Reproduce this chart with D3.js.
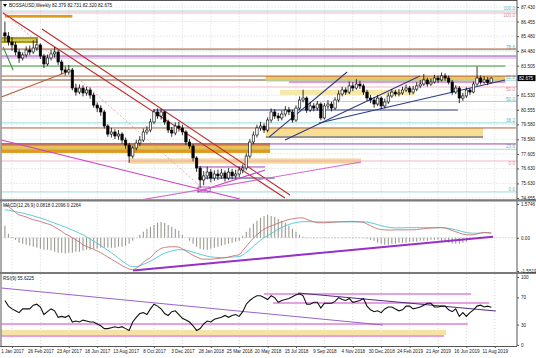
<!DOCTYPE html>
<html><head><meta charset="utf-8">
<script src="https://cdn.jsdelivr.net/npm/d3@7"></script>
<style>
html,body{margin:0;padding:0;background:#fff;}
svg{display:block;font-family:"Liberation Sans",Arial,sans-serif;}
</style></head><body>
<svg id="c" width="536" height="358"></svg>
<script>
// ---------- DATA ----------
const title = "BOSSAUSD,Weekly  82.379 82.731 82.320 82.675";
const macdTitle = "MACD(12,26,9) 0.0818 0.2096 0.2264";
const rsiTitle = "RSI(9) 55.6225";
const lastPrice = 82.675;
const firstOpen = 85.70;
const closes = [85.49,85.09,84.89,84.42,84.02,84.22,84.55,84.42,84.69,84.89,
84.15,83.62,84.02,84.29,84.42,83.75,83.22,83.08,83.22,82.01,
81.74,82.01,81.68,81.88,81.54,80.87,80.67,80.41,79.47,78.93,
79.07,78.80,78.93,78.53,78.20,77.46,78.00,78.33,78.53,79.07,
79.20,79.74,80.41,80.14,80.41,79.74,79.20,79.00,79.47,79.34,
79.07,78.40,78.13,77.33,76.66,75.86,76.13,76.39,75.99,76.26,
76.13,76.33,75.99,76.39,76.13,76.26,76.53,76.66,77.46,78.40,
78.87,79.34,79.47,79.20,79.87,80.41,80.14,80.01,80.27,80.54,
80.41,79.87,80.67,81.21,81.34,80.54,80.81,80.67,80.94,80.01,
80.81,80.94,80.67,81.21,81.61,81.88,81.74,82.15,82.01,82.28,
82.15,81.74,81.34,81.21,80.94,81.34,80.81,81.08,81.48,81.74,
81.61,81.68,81.88,82.01,81.74,81.94,82.15,82.28,82.55,82.28,
82.41,82.68,82.55,82.82,82.68,82.41,81.74,82.01,81.34,81.48,
81.88,81.74,82.28,82.68,82.41,82.55,82.379,82.675];
const highs = [86.45,85.75,85.40,85.10,84.60,84.40,84.80,84.85,85.20,85.30,
85.00,84.30,84.25,84.55,84.75,84.55,83.90,83.45,83.55,83.35,
82.30,82.25,82.20,82.10,82.05,81.70,81.05,80.85,80.55,79.60,
79.35,79.25,79.20,79.05,78.70,78.35,78.15,78.55,78.80,79.30,
79.45,79.95,80.60,80.65,80.60,80.50,79.90,79.40,79.70,79.75,
79.55,79.20,78.60,78.25,77.45,76.80,76.45,76.75,76.60,76.50,
76.55,76.60,76.50,76.65,76.60,76.55,76.75,76.90,77.65,78.60,
79.10,79.55,79.75,79.65,80.05,80.65,80.60,80.35,80.50,80.80,
80.75,80.55,80.85,81.45,81.90,81.45,81.05,81.00,81.15,81.05,
81.00,81.20,81.10,81.40,81.85,82.10,82.05,82.45,82.40,82.60,
82.50,82.30,81.90,81.55,81.40,81.55,81.45,81.30,81.70,81.95,
81.90,81.95,82.10,82.25,82.15,82.15,82.40,82.55,82.95,82.70,
82.65,82.90,82.85,83.05,83.00,82.85,82.55,82.20,82.15,81.70,
82.05,82.00,82.45,83.45,82.85,82.80,82.75,82.731];
const lows = [85.10,84.85,84.50,84.20,83.70,83.85,84.05,84.20,84.30,84.50,
83.95,83.35,83.50,83.85,84.05,83.55,82.95,82.85,82.90,81.85,
81.50,81.60,81.45,81.50,81.30,80.70,80.40,80.15,79.30,78.75,
78.70,78.60,78.55,78.30,77.95,77.00,77.30,77.85,78.15,78.40,
78.90,79.05,79.60,79.95,79.90,79.55,79.00,78.75,78.85,79.10,
78.85,78.20,77.95,77.10,76.40,75.35,75.50,75.90,75.70,75.80,
75.85,75.95,75.75,75.85,75.90,75.95,76.05,76.30,76.50,77.30,
78.25,78.70,79.15,79.00,79.05,79.70,79.95,79.80,79.85,80.10,
80.20,79.70,79.75,80.55,81.05,80.35,80.40,80.45,80.50,79.85,
79.90,80.60,80.45,80.55,81.05,81.45,81.55,81.60,81.80,81.90,
81.95,81.55,81.15,81.00,80.70,80.80,80.60,80.65,80.95,81.35,
81.45,81.45,81.55,81.75,81.55,81.60,81.80,82.00,82.15,82.10,
82.15,82.30,82.35,82.45,82.50,82.25,81.55,81.60,81.00,81.15,
81.35,81.55,81.65,82.15,82.25,82.30,82.20,82.32];
const macdMain = [1.55,1.45,1.32,1.18,1.07,1.02,0.97,0.90,0.84,0.80,
0.76,0.70,0.65,0.60,0.50,0.40,0.30,0.18,0.10,0.00,
-0.10,-0.20,-0.33,-0.40,-0.47,-0.54,-0.62,-0.70,-0.80,-0.90,
-1.00,-1.10,-1.20,-1.30,-1.38,-1.46,-1.49,-1.42,-1.30,-1.15,
-1.02,-0.93,-0.75,-0.60,-0.50,-0.45,-0.43,-0.42,-0.42,-0.44,
-0.52,-0.62,-0.72,-0.82,-0.90,-0.97,-1.00,-1.00,-1.00,-0.99,
-0.97,-0.95,-0.93,-0.90,-0.86,-0.82,-0.79,-0.60,-0.40,-0.20,
-0.02,0.14,0.28,0.40,0.48,0.55,0.62,0.68,0.74,0.80,
0.85,0.88,0.91,0.93,0.92,0.86,0.80,0.75,0.70,0.70,
0.70,0.71,0.72,0.73,0.74,0.75,0.75,0.76,0.76,0.75,
0.74,0.72,0.64,0.56,0.48,0.42,0.38,0.37,0.36,0.36,
0.37,0.37,0.37,0.37,0.37,0.37,0.38,0.40,0.42,0.44,
0.45,0.46,0.47,0.47,0.45,0.40,0.34,0.28,0.22,0.17,
0.14,0.13,0.14,0.18,0.22,0.25,0.24,0.21];
const macdSignal = [1.30,1.28,1.25,1.22,1.18,1.15,1.11,1.07,1.02,0.97,
0.92,0.87,0.81,0.74,0.68,0.62,0.56,0.50,0.43,0.36,
0.29,0.21,0.14,0.04,-0.06,-0.16,-0.26,-0.37,-0.48,-0.59,
-0.70,-0.82,-0.95,-1.08,-1.20,-1.30,-1.35,-1.35,-1.30,-1.24,
-1.17,-1.10,-1.00,-0.90,-0.80,-0.72,-0.66,-0.62,-0.58,-0.56,
-0.56,-0.58,-0.62,-0.67,-0.72,-0.77,-0.82,-0.86,-0.89,-0.91,
-0.92,-0.93,-0.93,-0.92,-0.90,-0.89,-0.88,-0.80,-0.68,-0.55,
-0.40,-0.26,-0.12,0.00,0.10,0.20,0.30,0.40,0.48,0.56,
0.62,0.67,0.71,0.74,0.75,0.75,0.75,0.74,0.74,0.74,
0.74,0.74,0.74,0.74,0.74,0.74,0.74,0.74,0.74,0.74,
0.74,0.74,0.73,0.70,0.66,0.61,0.56,0.52,0.49,0.47,
0.46,0.46,0.46,0.47,0.47,0.47,0.47,0.47,0.47,0.47,
0.47,0.47,0.47,0.47,0.46,0.44,0.41,0.37,0.33,0.28,
0.24,0.22,0.21,0.21,0.22,0.23,0.23,0.23];
const macdHist = [0.56,0.19,0.05,-0.09,-0.23,-0.28,-0.33,-0.37,-0.42,-0.47,
-0.51,-0.56,-0.56,-0.60,-0.65,-0.70,-0.70,-0.74,-0.70,-0.70,
-0.65,-0.65,-0.60,-0.56,-0.56,-0.51,-0.51,-0.47,-0.47,-0.47,
-0.47,-0.47,-0.42,-0.42,-0.37,-0.28,-0.14,0.00,0.14,0.28,
0.42,0.51,0.60,0.70,0.74,0.70,0.60,0.51,0.42,0.33,
0.14,0.00,-0.14,-0.28,-0.42,-0.51,-0.56,-0.56,-0.51,-0.47,
-0.42,-0.37,-0.33,-0.28,-0.23,-0.19,-0.14,0.09,0.28,0.47,
0.65,0.79,0.93,1.02,1.07,1.02,0.98,0.88,0.79,0.70,
0.56,0.42,0.28,0.14,0.05,-0.02,0.02,-0.02,0.02,-0.02,
0.02,-0.02,0.02,-0.02,0.02,-0.02,0.02,0.02,-0.02,0.02,
-0.02,-0.02,-0.05,-0.09,-0.14,-0.23,-0.28,-0.33,-0.33,-0.28,
-0.28,-0.23,-0.23,-0.23,-0.19,-0.19,-0.19,-0.14,-0.14,-0.14,
-0.09,-0.09,-0.09,-0.14,-0.19,-0.23,-0.28,-0.28,-0.28,-0.23,
-0.19,-0.09,-0.05,0.00,0.05,0.05,0.05,0.05];
const rsi = [65.5,57.2,53.1,50.3,47.6,53.1,53.1,53.1,58.6,60.0,
55.9,44.8,49.0,53.1,50.3,40.7,42.1,40.7,43.4,33.8,
35.2,33.8,36.6,35.2,33.8,33.8,31.0,28.3,24.1,24.1,
25.5,26.9,25.5,26.9,24.1,21.4,33.8,40.7,46.2,47.6,
44.8,53.1,60.0,57.2,53.1,46.2,43.4,49.0,50.3,44.8,
39.3,36.6,33.8,28.3,21.4,24.1,31.0,35.2,33.8,37.9,
39.3,40.7,43.4,40.7,43.4,44.8,42.1,49.0,60.0,65.5,
69.7,72.4,72.4,69.7,66.9,72.4,69.7,62.8,65.5,66.9,
68.3,71.0,73.8,75.2,72.4,60.0,60.0,62.8,62.8,54.5,
61.4,61.4,61.4,64.1,69.7,66.9,65.5,68.3,62.8,64.1,
65.5,68.3,57.2,51.7,49.0,50.3,47.6,53.1,55.9,55.9,
53.1,50.3,51.7,57.2,57.2,53.1,54.5,55.9,58.6,61.4,
61.4,55.9,55.9,57.2,57.2,51.7,49.0,53.1,42.1,47.6,
42.1,47.6,51.7,57.2,58.6,55.9,57.2,55.6];
const dateLabels = ["1 Jan 2017","26 Feb 2017","23 Apr 2017","18 Jun 2017","13 Aug 2017","8 Oct 2017","3 Dec 2017","28 Jan 2018","25 Mar 2018","20 May 2018","15 Jul 2018","9 Sep 2018","4 Nov 2018","30 Dec 2018","24 Feb 2019","21 Apr 2019","16 Jun 2019","11 Aug 2019"];
const dateWeeks = [2,10,18,26,34,42,50,58,66,74,82,90,98,106,114,122,130,138];
const priceTicks = [87.430,86.455,85.480,84.480,83.505,81.530,80.555,79.580,78.580,77.605,76.630,75.630,74.655];
const priceGrid = [87.430,86.455,85.480,84.480,83.505,82.505,81.530,80.555,79.580,78.580,77.605,76.630,75.630,74.655];
const macdTicks = [1.5746,0,-1.5519];
const macdTickLabels = ["1.5746","0.00","-1.5519"];
const rsiTicks = [100,70,30,0];
// annotations (price levels / week indices)
const fibTealLevels = ["0.0","23.6","38.2","50.0","61.8","78.6","100.0"];
const fibTealRange = [75.06, 87.16];
const fibPinkLevels = ["0.0","50.0","100.0"];
const fibPinkRange = [77.13, 87.03];
const zones = [
 {p1:86.90,p2:86.72,w1:0,w2:19,k:"orange"},
 {p1:85.42,p2:85.02,w1:-1,w2:9.3,k:"olive"},
 {p1:85.28,p2:85.16,w1:-1,w2:9.3,k:"oliveLight"},
 {p1:82.81,p2:82.45,w1:73.5,w2:140.9,k:"gold"},
 {p1:81.88,p2:81.55,w1:77.5,w2:115.5,k:"paleYellow"},
 {p1:78.33,p2:77.67,w1:-1,w2:74.7,k:"orange"},
 {p1:78.13,p2:77.93,w1:-1,w2:74.7,k:"orangeLight"},
 {p1:77.30,p2:76.95,w1:35.2,w2:100.3,k:"peach"},
 {p1:79.34,p2:78.73,w1:73.5,w2:134.7,k:"yellow"}
];
const hLines = [
 {p:84.62,w1:-1,w2:144,k:"sienna"},
 {p:82.81,w1:-1,w2:144,k:"sienna"},
 {p:82.55,w1:-1,w2:73.5,k:"sienna"},
 {p:79.34,w1:-1,w2:144,k:"sienna"},
 {p:84.15,w1:-1,w2:144,k:"purple"},
 {p:84.02,w1:-1,w2:144,k:"lilac"},
 {p:83.48,w1:-1,w2:141,k:"green"},
 {p:82.41,w1:80,w2:141,k:"magenta"},
 {p:80.54,w1:41.7,w2:127.6,k:"navy"},
 {p:78.73,w1:73.5,w2:134.7,k:"navy"},
 {p:78.27,w1:-1,w2:144,k:"purple"},
 {p:75.99,w1:54.4,w2:76,k:"navy"},
 {p:76.73,w1:54.4,w2:73.3,k:"purple"}
];
const trendLines = [
 {w1:-0.54,p1:87.03,w2:78.9,p2:74.65,k:"red"},
 {w1:10.45,p1:85.96,w2:80.3,p2:74.86,k:"red"},
 {w1:-0.54,p1:87.10,w2:57.8,p2:74.86,k:"redDot"},
 {w1:-1,p1:81.41,w2:17.5,p2:83.08,k:"sienna"},
 {w1:-0.5,p1:84.75,w2:2.3,p2:83.22,k:"green"},
 {w1:-1,p1:78.53,w2:66.2,p2:74.59,k:"magenta"},
 {w1:54.1,p1:75.06,w2:73.3,p2:76.53,k:"magenta"},
 {w1:38.1,p1:74.52,w2:100.3,p2:77.06,k:"orchid"},
 {w1:74.4,p1:78.73,w2:96.4,p2:83.08,k:"navy"},
 {w1:78.9,p1:78.53,w2:116.9,p2:82.82,k:"navy"},
 {w1:88.5,p1:79.67,w2:140.9,p2:82.55,k:"navy"}
];
const lowBox = {w1:54.4,w2:57.8,p1:75.39,p2:75.06};
const macdTrend = {w1:36.1,v1:-1.53,w2:137.5,v2:0.05};
const rsiLines = [
 {w1:-1,v1:83.8,w2:106.5,v2:29.4,k:"violet"},
 {w1:-1,v1:30.9,w2:130.4,v2:30.9,k:"magenta"},
 {w1:-1,v1:13.2,w2:123.7,v2:13.2,k:"magenta"},
 {w1:73,v1:75.0,w2:131.3,v2:75.0,k:"magenta"},
 {w1:75.5,v1:61.8,w2:136.4,v2:61.8,k:"magenta"},
 {w1:82.6,v1:76.5,w2:138.3,v2:50.0,k:"darkPurple"}
];
const rsiZone = {v1:22.1,v2:14.7,w1:-1,w2:124.3};

// ---------- STYLE ----------
const col = {orange:"#dc9a1e",olive:"#a89a1e",oliveLight:"#d6cd66",gold:"#ecc766",paleYellow:"#f6e8a8",
 orangeLight:"#f0c14c",peach:"#f5d79c",yellow:"#f6de92",sienna:"#b0603a",purple:"#9a44b4",lilac:"#c9a6df",
 green:"#3a963a",magenta:"#cc44c4",navy:"#2f3b84",red:"#c0282a",redDot:"#e08a8a",orchid:"#d46cc8",
 violet:"#9a62cc",darkPurple:"#4e2f80",teal:"#86d2d4",pink:"#eda4b8"};
const FS = 4.6;

const svg = d3.select("#c");
const XL = 1.5, XR = 517;
const P = {main:[1.5,199], macd:[201.5,272], rsi:[274,346]};
const x = d3.scaleLinear().domain([0,137]).range([4.9,491.25]);
const y = d3.scaleLinear().domain([74.655,87.43]).range([198,7]);
const ym = d3.scaleLinear().domain([-1.5519,1.5746]).range([271,204]);
const yr = d3.scaleLinear().domain([0,100]).range([345,277]);

svg.append("rect").attr("width",536).attr("height",358).attr("fill","#fff");
const defs = svg.append("defs");
Object.entries(P).forEach(([k,[t,b]])=>{
  defs.append("clipPath").attr("id","cl-"+k).append("rect")
    .attr("x",XL).attr("y",t).attr("width",XR-XL).attr("height",b-t);
});
const gMain = svg.append("g").attr("clip-path","url(#cl-main)");
const gMacd = svg.append("g").attr("clip-path","url(#cl-macd)");
const gRsi = svg.append("g").attr("clip-path","url(#cl-rsi)");

// grid
[[gMain,P.main],[gMacd,P.macd],[gRsi,P.rsi]].forEach(([g,[t,b]])=>{
  g.selectAll(null).data(dateWeeks).join("line")
   .attr("x1",d=>x(d)).attr("x2",d=>x(d)).attr("y1",t).attr("y2",b)
   .attr("stroke","#bdbdbd").attr("stroke-width",0.6).attr("stroke-dasharray","1,2");
});
gMain.selectAll(null).data(priceGrid).join("line")
  .attr("x1",XL).attr("x2",XR).attr("y1",d=>y(d)).attr("y2",d=>y(d))
  .attr("stroke","#bdbdbd").attr("stroke-width",0.6).attr("stroke-dasharray","1,2");

// zones
gMain.selectAll(null).data(zones).join("rect")
  .attr("x",d=>x(d.w1)).attr("width",d=>x(d.w2)-x(d.w1))
  .attr("y",d=>y(d.p1)).attr("height",d=>y(d.p2)-y(d.p1))
  .attr("fill",d=>col[d.k]);

// fib lines
const tealP = fibTealLevels.map(l=>fibTealRange[0]+(+l)/100*(fibTealRange[1]-fibTealRange[0]));
const pinkP = fibPinkLevels.map(l=>fibPinkRange[0]+(+l)/100*(fibPinkRange[1]-fibPinkRange[0]));
[[tealP,fibTealLevels,col.teal,-0.8],[pinkP,fibPinkLevels,col.pink,4.2]].forEach(([ps,labs,c,dy])=>{
  gMain.selectAll(null).data(ps).join("line")
   .attr("x1",XL).attr("x2",XR).attr("y1",d=>y(d)).attr("y2",d=>y(d))
   .attr("stroke",c).attr("stroke-width",0.8);
  gMain.selectAll(null).data(ps).join("text")
   .attr("x",515).attr("y",d=>y(d)+dy).attr("text-anchor","end")
   .attr("font-size",FS).attr("fill",c==col.teal?"#55b8bb":"#e07f9c").text((d,i)=>labs[i]);
});

// horizontal lines
gMain.selectAll(null).data(hLines).join("line")
  .attr("x1",d=>x(d.w1)).attr("x2",d=>x(d.w2)).attr("y1",d=>y(d.p)).attr("y2",d=>y(d.p))
  .attr("stroke",d=>col[d.k]).attr("stroke-width",1);

// trend lines
gMain.selectAll(null).data(trendLines).join("line")
  .attr("x1",d=>x(d.w1)).attr("x2",d=>x(d.w2)).attr("y1",d=>y(d.p1)).attr("y2",d=>y(d.p2))
  .attr("stroke",d=>col[d.k]).attr("stroke-width",d=>d.k=="redDot"?0.7:1.1)
  .attr("stroke-dasharray",d=>d.k=="redDot"?"2,2":null);
gMain.append("rect").attr("x",x(lowBox.w1)).attr("width",x(lowBox.w2)-x(lowBox.w1))
  .attr("y",y(lowBox.p1)).attr("height",y(lowBox.p2)-y(lowBox.p1))
  .attr("fill","none").attr("stroke",col.purple).attr("stroke-width",0.8);

// candles
const opens = closes.map((c,i)=> i==0?firstOpen:closes[i-1]);
const bars = closes.map((c,i)=>({i,o:opens[i],c,h:highs[i],l:lows[i]}));
const cg = gMain.append("g");
cg.selectAll(null).data(bars).join("line")
  .attr("x1",d=>x(d.i)).attr("x2",d=>x(d.i)).attr("y1",d=>y(d.h)).attr("y2",d=>y(d.l))
  .attr("stroke","#000").attr("stroke-width",0.8);
cg.selectAll(null).data(bars).join("rect")
  .attr("x",d=>x(d.i)-1.2).attr("width",2.4)
  .attr("y",d=>y(Math.max(d.o,d.c))).attr("height",d=>Math.max(0.8,Math.abs(y(d.o)-y(d.c))))
  .attr("fill",d=>d.c>=d.o?"#fff":"#000").attr("stroke","#000").attr("stroke-width",0.6);

// MACD
gMacd.append("line").attr("x1",XL).attr("x2",XR).attr("y1",ym(0)).attr("y2",ym(0))
  .attr("stroke","#999").attr("stroke-width",0.7).attr("stroke-dasharray","1,2");
gMacd.selectAll(null).data(macdHist).join("line")
  .attr("x1",(d,i)=>x(i)).attr("x2",(d,i)=>x(i)).attr("y1",ym(0)).attr("y2",d=>ym(d))
  .attr("stroke","#9a9a90").attr("stroke-width",1.1);
const lm = d3.line().x((d,i)=>x(i)).y(d=>ym(d)).curve(d3.curveMonotoneX);
gMacd.append("path").attr("d",lm(macdSignal)).attr("fill","none").attr("stroke","#4cc4d4").attr("stroke-width",0.9);
gMacd.append("path").attr("d",lm(macdMain)).attr("fill","none").attr("stroke","#c8706e").attr("stroke-width",0.9);
gMacd.append("line").attr("x1",x(macdTrend.w1)).attr("x2",x(macdTrend.w2))
  .attr("y1",ym(macdTrend.v1)).attr("y2",ym(macdTrend.v2))
  .attr("stroke","#9630c8").attr("stroke-width",2);

// RSI
gRsi.append("rect").attr("x",x(rsiZone.w1)).attr("width",x(rsiZone.w2)-x(rsiZone.w1))
  .attr("y",yr(rsiZone.v1)).attr("height",yr(rsiZone.v2)-yr(rsiZone.v1)).attr("fill","#f7e2a6");
gRsi.selectAll(null).data(rsiLines).join("line")
  .attr("x1",d=>x(d.w1)).attr("x2",d=>x(d.w2)).attr("y1",d=>yr(d.v1)).attr("y2",d=>yr(d.v2))
  .attr("stroke",d=>col[d.k]).attr("stroke-width",1.1);
const lr = d3.line().x((d,i)=>x(i)).y(d=>yr(d));
gRsi.append("path").attr("d",lr(rsi)).attr("fill","none").attr("stroke","#111").attr("stroke-width",1.1);

// frames
const frame = svg.append("g").attr("fill","none");
frame.append("line").attr("x1",1).attr("x2",1).attr("y1",0).attr("y2",346).attr("stroke","#555").attr("stroke-width",1);
frame.append("line").attr("x1",XR).attr("x2",XR).attr("y1",0).attr("y2",346).attr("stroke","#555").attr("stroke-width",1);
frame.append("line").attr("x1",0).attr("x2",XR).attr("y1",0.5).attr("y2",0.5).attr("stroke","#555");
[[200.3],[273]].forEach(([yy])=>frame.append("line").attr("x1",0).attr("x2",536).attr("y1",yy).attr("y2",yy).attr("stroke","#7a7a7a").attr("stroke-width",2.2));
frame.append("line").attr("x1",0).attr("x2",XR).attr("y1",346.5).attr("y2",346.5).attr("stroke","#555");

// axes
function styleAxis(g){
  g.select(".domain").remove();
  g.selectAll("line").attr("stroke","#555");
  g.selectAll("text").attr("font-size",FS).attr("fill","#222").attr("font-family","Liberation Sans, Arial, sans-serif");
}
svg.append("g").attr("transform",`translate(${XR},0)`)
  .call(d3.axisRight(y).tickValues(priceTicks).tickSize(2).tickPadding(2).tickFormat(d3.format(".3f"))).call(styleAxis);
svg.append("g").attr("transform",`translate(${XR},0)`)
  .call(d3.axisRight(ym).tickValues(macdTicks).tickSize(2).tickPadding(2).tickFormat((d,i)=>macdTickLabels[i])).call(styleAxis);
svg.append("g").attr("transform",`translate(${XR},0)`)
  .call(d3.axisRight(yr).tickValues(rsiTicks).tickSize(2).tickPadding(2).tickFormat(d3.format("d"))).call(styleAxis);
svg.append("g").attr("transform","translate(0,346)")
  .call(d3.axisBottom(x).tickValues(dateWeeks).tickSize(2).tickPadding(2).tickFormat((d,i)=>dateLabels[i])).call(styleAxis);

// price box
svg.append("rect").attr("x",XR+0.5).attr("y",y(lastPrice)-3).attr("width",18).attr("height",6).attr("fill","#000");
svg.append("text").attr("x",XR+2).attr("y",y(lastPrice)+1.6).attr("font-size",FS).attr("fill","#fff").text(lastPrice.toFixed(3));

// titles
svg.append("path").attr("d","M3,4 L7,4 L5,7 Z").attr("fill","#000");
svg.append("text").attr("x",9).attr("y",7).attr("font-size",FS).attr("fill","#111").text(title);
svg.append("text").attr("x",3).attr("y",207).attr("font-size",FS).attr("fill","#111").text(macdTitle);
svg.append("text").attr("x",3).attr("y",280).attr("font-size",FS).attr("fill","#111").text(rsiTitle);
</script>
</body></html>
